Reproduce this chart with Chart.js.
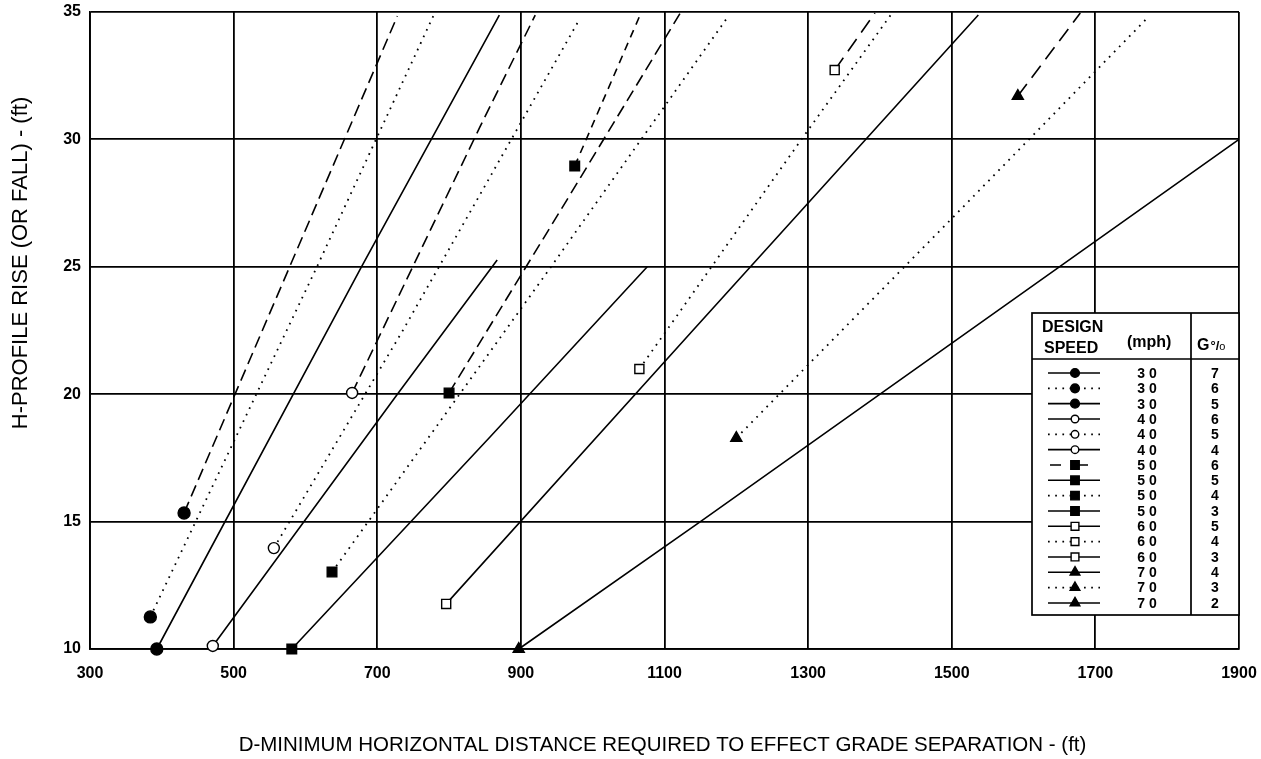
<!DOCTYPE html>
<html>
<head>
<meta charset="utf-8">
<script src="https://cdn.jsdelivr.net/npm/chart.js@4.4.1/dist/chart.umd.min.js"></script>
<style>
  html, body { margin: 0; padding: 0; background: #fff; }
  #wrap { width: 1261px; height: 759px; }
</style>
</head>
<body>
<div id="wrap"><canvas id="chart" width="1261" height="759"></canvas></div>
<script>
'use strict';

// axis ticks
const xTicks = [300, 500, 700, 900, 1100, 1300, 1500, 1700, 1900];
const yTicks = [10, 15, 20, 25, 30, 35];

// curves as [D, H]; the first pair carries the marker
const s30g7 = [[431, 15.34], [578, 25], [728, 34.84]];
const s30g6 = [[384, 11.26], [616, 25], [778, 34.84]];
const s30g5 = [[393, 10], [678, 25], [870, 34.88]];
const s40g6 = [[665, 20.05], [843, 30.49], [920, 34.88]];
const s40g5 = [[556, 13.96], [736, 22.52], [982, 34.73]];
const s40g4 = [[471, 10.12], [728, 20.0], [867, 25.27]];
const s50g6 = [[975, 28.96], [1066, 34.88]];
const s50g5 = [[800, 20.05], [964, 27.62], [1122, 34.96]];
const s50g4 = [[637, 13.02], [942, 25], [1187, 34.76]];
const s50g3 = [[581, 10], [857, 18.32], [1076, 25]];
const s60g5 = [[1337, 32.72], [1393, 34.96]];
const s60g4 = [[1065, 20.99], [1293, 30.09], [1417, 34.96]];
const s60g3 = [[796, 11.77], [1140, 22.52], [1537, 34.88]];
const s70g4 = [[1592, 31.70], [1679, 34.96]];
const s70g3 = [[1200, 18.28], [1502, 26.95], [1775, 34.84]];
const s70g2 = [[897, 10], [1150, 15], [1900, 30]];

// legend table rows
const legendSpeeds = [30, 30, 30, 40, 40, 40, 50, 50, 50, 50, 60, 60, 60, 70, 70, 70];
const legendGrades = [7, 6, 5, 6, 5, 4, 6, 5, 4, 3, 5, 4, 3, 4, 3, 2];

const xTitle = 'D-MINIMUM HORIZONTAL DISTANCE REQUIRED TO EFFECT GRADE SEPARATION - (ft)';
const yTitle = 'H-PROFILE RISE (OR FALL) - (ft)';

/* styles */
const DASH = { solid: [], dotted: [1.7, 5.5], dashed: [12, 6], short: [8, 6], long: [15, 8] };
const MARK = {
  fc: { style: 'circle', r: 6, lr: 4.4, fill: '#000' },
  oc: { style: 'circle', r: 5.5, lr: 3.8, fill: '#fff' },
  fs: { style: 'rect', r: 6.8, lr: 6, fill: '#000' },
  os: { style: 'rect', r: 6.4, lr: 5.5, fill: '#fff' },
  tr: { style: 'triangle', r: 6.4, lr: 5.6, fill: '#000' }
};
const legendLine = ['solid', 'dotted', 'solid', 'solid', 'dotted', 'solid', 'dashed', 'solid',
  'dotted', 'solid', 'solid', 'dotted', 'solid', 'solid', 'dotted', 'solid'];
const legendMark = ['fc', 'fc', 'fc', 'oc', 'oc', 'oc', 'fs', 'fs', 'fs', 'fs', 'os', 'os', 'os', 'tr', 'tr', 'tr'];

const series = [
  { label: '30 mph 7%', pts: s30g7, line: 'dashed', mark: 'fc' },
  { label: '30 mph 6%', pts: s30g6, line: 'dotted', mark: 'fc' },
  { label: '30 mph 5%', pts: s30g5, line: 'solid', mark: 'fc' },
  { label: '40 mph 6%', pts: s40g6, line: 'dashed', mark: 'oc' },
  { label: '40 mph 5%', pts: s40g5, line: 'dotted', mark: 'oc' },
  { label: '40 mph 4%', pts: s40g4, line: 'solid', mark: 'oc' },
  { label: '50 mph 6%', pts: s50g6, line: 'short', mark: 'fs' },
  { label: '50 mph 5%', pts: s50g5, line: 'dashed', mark: 'fs' },
  { label: '50 mph 4%', pts: s50g4, line: 'dotted', mark: 'fs' },
  { label: '50 mph 3%', pts: s50g3, line: 'solid', mark: 'fs' },
  { label: '60 mph 5%', pts: s60g5, line: 'long', mark: 'os' },
  { label: '60 mph 4%', pts: s60g4, line: 'dotted', mark: 'os' },
  { label: '60 mph 3%', pts: s60g3, line: 'solid', mark: 'os' },
  { label: '70 mph 4%', pts: s70g4, line: 'long', mark: 'tr' },
  { label: '70 mph 3%', pts: s70g3, line: 'dotted', mark: 'tr' },
  { label: '70 mph 2%', pts: s70g2, line: 'solid', mark: 'tr' }
];

const FONT = '"Liberation Sans", Arial, Helvetica, sans-serif';

// table legend + axis titles
const tablePlugin = {
  id: 'speedTable',
  afterDraw(chart) {
    const ctx = chart.ctx;
    const a = chart.chartArea;
    const R = a.right, L = R - 207, T = a.top + 301, B = a.top + 603;
    const split = R - 48, head = T + 46;
    ctx.save();
    ctx.fillStyle = '#fff';
    ctx.fillRect(L, T, R - L, B - T);
    ctx.strokeStyle = '#000';
    ctx.lineWidth = 1.7;
    ctx.setLineDash([]);
    ctx.strokeRect(L, T, R - L, B - T);
    ctx.beginPath();
    ctx.moveTo(split, T); ctx.lineTo(split, B);
    ctx.moveTo(L, head); ctx.lineTo(R, head);
    ctx.stroke();

    ctx.fillStyle = '#000';
    ctx.textBaseline = 'alphabetic';
    ctx.textAlign = 'left';
    ctx.font = 'bold 16px ' + FONT;
    ctx.fillText('DESIGN', L + 10, T + 19);
    ctx.fillText('SPEED', L + 12, T + 40);
    ctx.fillText('(mph)', L + 95, T + 34);
    ctx.fillText('G', split + 6, T + 37);
    const gw = ctx.measureText('G').width;
    ctx.font = 'bold 13px ' + FONT;
    ctx.fillText('°/', split + 7 + gw, T + 37);
    const sw = ctx.measureText('°/').width;
    ctx.font = '11px ' + FONT;
    ctx.fillText('o', split + 7 + gw + sw, T + 37);

    const x0 = L + 16, x1 = L + 68, xm = L + 43;
    for (let i = 0; i < legendSpeeds.length; i++) {
      const y = T + 60 + i * 15.33;
      ctx.strokeStyle = '#000';
      ctx.lineWidth = legendLine[i] === 'dotted' ? 1.7 : 1.6;
      ctx.setLineDash(legendLine[i] === 'dashed' ? [11, 16] : DASH[legendLine[i]]);
      ctx.beginPath();
      ctx.moveTo(legendLine[i] === 'dashed' ? x0 + 2 : x0, y);
      ctx.lineTo(x1, y);
      ctx.stroke();
      ctx.setLineDash([]);
      const m = MARK[legendMark[i]];
      ctx.fillStyle = m.fill;
      ctx.lineWidth = 1.4;
      Chart.helpers.drawPoint(ctx, { pointStyle: m.style, radius: m.lr, borderWidth: 1.4, rotation: 0 }, xm, y);
      ctx.fillStyle = '#000';
      ctx.font = 'bold 14px ' + FONT;
      ctx.textAlign = 'center';
      ctx.textBaseline = 'middle';
      ctx.fillText(String(legendSpeeds[i]).split('').join(' '), L + 115, y + 1);
      ctx.fillText(String(legendGrades[i]), split + 24, y + 1);
    }

    // axis titles
    ctx.fillStyle = '#000';
    ctx.textAlign = 'center';
    ctx.textBaseline = 'middle';
    ctx.font = '20.5px ' + FONT;
    ctx.fillText(xTitle, (a.left + a.right) / 2 - 2, 745);
    ctx.font = '22px ' + FONT;
    ctx.translate(21, 263);
    ctx.rotate(-Math.PI / 2);
    ctx.fillText(yTitle, 0, 0);
    ctx.restore();
  }
};

const datasets = series.map(function(s) {
  const m = MARK[s.mark];
  return {
    label: s.label,
    data: s.pts.map(function(p) { return { x: p[0], y: p[1] }; }),
    showLine: true,
    borderColor: '#000',
    borderWidth: s.line === 'dotted' ? 1.8 : 1.6,
    borderDash: DASH[s.line],
    tension: 0,
    pointStyle: m.style,
    pointRadius: function(ctx) { return ctx.dataIndex === 0 ? m.r : 0; },
    pointHoverRadius: 0,
    pointBackgroundColor: m.fill,
    pointBorderColor: '#000',
    pointBorderWidth: 1.4,
    clip: false
  };
});

const axisCommon = {
  type: 'linear',
  grid: { color: '#000', lineWidth: 1.8, drawTicks: false },
  border: { display: true, color: '#000', width: 1.8 },
  ticks: {
    color: '#000',
    font: { family: FONT, size: 16, weight: 'bold' },
    maxRotation: 0,
    autoSkip: false,
    callback: function(v) { return String(v); }
  }
};

function noPad(scale) {
  scale.paddingLeft = 0; scale.paddingRight = 0;
  scale.paddingTop = 0; scale.paddingBottom = 0;
}

new Chart(document.getElementById('chart'), {
  type: 'scatter',
  data: { datasets: datasets },
  options: {
    responsive: false,
    devicePixelRatio: 1,
    animation: false,
    layout: { padding: { top: 12, right: 22, left: 0, bottom: 0 } },
    plugins: { legend: { display: false }, tooltip: { enabled: false } },
    scales: {
      x: Object.assign({}, axisCommon, {
        min: 300, max: 1900,
        ticks: Object.assign({}, axisCommon.ticks, { padding: 15 }),
        afterBuildTicks: function(scale) { scale.ticks = xTicks.map(function(v) { return { value: v }; }); },
        afterFit: function(scale) { scale.height = 110; noPad(scale); }
      }),
      y: Object.assign({}, axisCommon, {
        min: 10, max: 35,
        ticks: Object.assign({}, axisCommon.ticks, { padding: 9 }),
        afterBuildTicks: function(scale) { scale.ticks = yTicks.map(function(v) { return { value: v }; }); },
        afterFit: function(scale) { scale.width = 90; noPad(scale); }
      })
    }
  },
  plugins: [tablePlugin]
});
</script>
</body>
</html>
